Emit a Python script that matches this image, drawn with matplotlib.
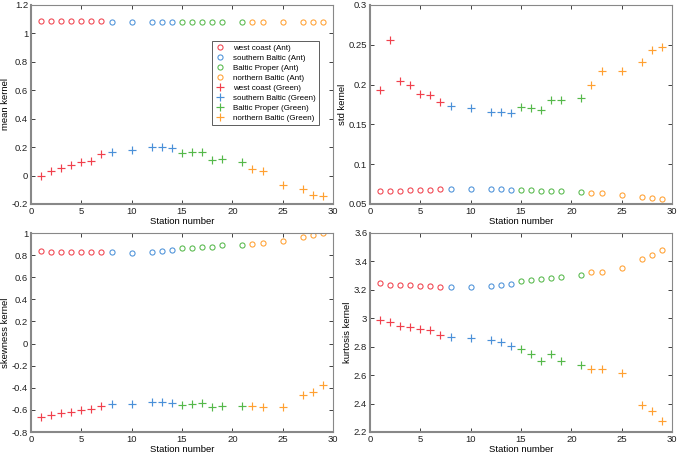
import matplotlib
matplotlib.use("Agg")
import matplotlib.pyplot as plt
import numpy as np

plt.rcParams['font.family'] = ['Liberation Sans', 'DejaVu Sans']

# Stations per region
st_west = [1, 2, 3, 4, 5, 6, 7]
st_south = [8, 10, 12, 13, 14]
st_proper = [15, 16, 17, 18, 19, 21]
st_north = [22, 23, 25, 27, 28, 29]

region_names = ["west coast", "southern Baltic", "Baltic Proper", "northern Baltic"]
region_colors = ["#f0404c", "#4a90d8", "#55b84a", "#ffa031"]

# mean kernel
mean_ant = [1.088, 1.088, 1.086, 1.086, 1.086, 1.086, 1.086,
            1.080, 1.080, 1.080, 1.077, 1.080,
            1.077, 1.080, 1.080, 1.080, 1.083, 1.080,
            1.080, 1.080, 1.080, 1.080, 1.077, 1.080]
mean_green = [-0.003, 0.034, 0.055, 0.076, 0.095, 0.100, 0.149,
              0.168, 0.180, 0.199, 0.199, 0.194,
              0.156, 0.163, 0.166, 0.110, 0.114, 0.093,
              0.044, 0.032, -0.066, -0.095, -0.134, -0.146]

# std kernel
std_ant = [0.0660, 0.0664, 0.0664, 0.0672, 0.0672, 0.0680, 0.0685,
           0.0685, 0.0685, 0.0685, 0.0685, 0.0680,
           0.0676, 0.0676, 0.0668, 0.0664, 0.0660, 0.0651,
           0.0638, 0.0638, 0.0610, 0.0588, 0.0576, 0.0559]
std_green = [0.1926, 0.2555, 0.2040, 0.1998, 0.1884, 0.1870, 0.1780,
             0.1725, 0.1710, 0.1660, 0.1655, 0.1645,
             0.1720, 0.1710, 0.1680, 0.1810, 0.1810, 0.1834,
             0.1998, 0.2165, 0.2170, 0.2287, 0.2430, 0.2467]

# skewness kernel
skew_ant = [0.834, 0.831, 0.831, 0.825, 0.825, 0.825, 0.825,
            0.825, 0.819, 0.828, 0.834, 0.846,
            0.867, 0.867, 0.876, 0.876, 0.888, 0.894,
            0.904, 0.907, 0.925, 0.961, 0.979, 0.997]
skew_green = [-0.667, -0.643, -0.631, -0.616, -0.604, -0.592, -0.568,
              -0.550, -0.544, -0.532, -0.532, -0.538,
              -0.556, -0.550, -0.538, -0.577, -0.562, -0.562,
              -0.568, -0.571, -0.577, -0.468, -0.441, -0.375]

# kurtosis kernel
kurt_ant = [3.246, 3.236, 3.236, 3.234, 3.229, 3.229, 3.222,
            3.222, 3.218, 3.225, 3.232, 3.244,
            3.265, 3.267, 3.279, 3.283, 3.293, 3.302,
            3.326, 3.326, 3.356, 3.419, 3.447, 3.478]
kurt_green = [2.990, 2.971, 2.943, 2.939, 2.922, 2.915, 2.885,
              2.866, 2.861, 2.845, 2.833, 2.807,
              2.782, 2.751, 2.702, 2.749, 2.699, 2.674,
              2.641, 2.645, 2.613, 2.392, 2.350, 2.275]

groups = [st_west, st_south, st_proper, st_north]

def split(vals):
    out = []
    i = 0
    for g in groups:
        out.append(vals[i:i + len(g)])
        i += len(g)
    return out

fig = plt.figure(figsize=(6.77, 4.57), dpi=100)
W, H = 677, 457

def add_ax(l, t, r, b):
    return fig.add_axes([l / W, 1 - b / H, (r - l) / W, (b - t) / H])

ax_mean = add_ax(31, 5, 333, 204)
ax_std = add_ax(370, 5, 672, 204)
ax_skew = add_ax(31, 233, 333, 432)
ax_kurt = add_ax(370, 233, 672, 432)

panels = [
    (ax_mean, mean_ant, mean_green, "mean kernel", (-0.2, 1.2), np.arange(-0.2, 1.21, 0.2), ["-0.2", "0", "0.2", "0.4", "0.6", "0.8", "1", "1.2"]),
    (ax_std, std_ant, std_green, "std kernel", (0.05, 0.3), np.arange(0.05, 0.301, 0.05), ["0.05", "0.1", "0.15", "0.2", "0.25", "0.3"]),
    (ax_skew, skew_ant, skew_green, "skewness kernel", (-0.8, 1.0), np.arange(-0.8, 1.01, 0.2), ["-0.8", "-0.6", "-0.4", "-0.2", "0", "0.2", "0.4", "0.6", "0.8", "1"]),
    (ax_kurt, kurt_ant, kurt_green, "kurtosis kernel", (2.2, 3.6), np.arange(2.2, 3.61, 0.2), ["2.2", "2.4", "2.6", "2.8", "3", "3.2", "3.4", "3.6"]),
]

for ax, ant, green, ylabel, ylim, yticks, ylabels in panels:
    ant_s = split(ant)
    green_s = split(green)
    for g, vals, name, c in zip(groups, ant_s, region_names, region_colors):
        ax.plot(g, vals, linestyle='none', marker='o', markersize=3.7,
                markerfacecolor='none', markeredgecolor=c, markeredgewidth=0.75,
                label=f"{name} (Ant)")
    for g, vals, name, c in zip(groups, green_s, region_names, region_colors):
        ax.plot(g, vals, linestyle='none', marker='+', markersize=5.2,
                color=c, markeredgewidth=0.85, label=f"{name} (Green)")
    ax.set_xlim(0, 30)
    ax.set_ylim(*ylim)
    ax.set_xticks(np.arange(0, 31, 5))
    ax.set_xticklabels([str(v) for v in range(0, 31, 5)])
    ax.set_yticks(yticks)
    ax.set_yticklabels(ylabels)
    ax.set_xlabel("Station number", fontsize=6.8, labelpad=1)
    ax.set_ylabel(ylabel, fontsize=6.8, labelpad=1)
    ax.tick_params(direction='in', top=True, right=True, length=3, width=0.6,
                   labelsize=6.8, pad=2, colors='#222222')
    for s in ax.spines.values():
        s.set_color('#888888')
        s.set_linewidth(0.8)
    ax.spines['left'].set_linewidth(1.5)
    ax.spines['bottom'].set_linewidth(1.5)

leg = ax_mean.legend(loc='upper left', bbox_to_anchor=(181 / 302, 1 - 36 / 199),
                     fontsize=5.8, frameon=True, fancybox=False, handlelength=1.2,
                     handletextpad=0.9, borderpad=0.45, labelspacing=0.28,
                     borderaxespad=0)
leg.get_frame().set_edgecolor('#333333')
leg.get_frame().set_linewidth(0.7)

fig.savefig("out.png", dpi=100)
